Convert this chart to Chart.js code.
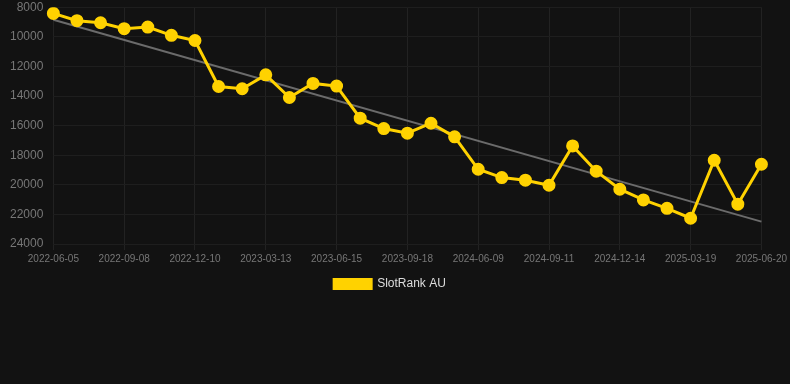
<!DOCTYPE html>
<html>
<head>
<meta charset="utf-8">
<script src="https://cdn.jsdelivr.net/npm/chart.js@4"></script>
<style>
  html, body { margin: 0; padding: 0; background: #121212; overflow: hidden; }
  #wrap { width: 790px; height: 310px; margin-top: -10px; }
</style>
</head>
<body>
<div id="wrap"><canvas id="rankChart"></canvas></div>
<script>
let dates = ['2022-06-05', '2022-07-07', '2022-08-08', '2022-09-08', '2022-10-09', '2022-11-09',
  '2022-12-10', '2023-01-11', '2023-02-11', '2023-03-13', '2023-04-14', '2023-05-15',
  '2023-06-15', '2023-07-17', '2023-08-17', '2023-09-18', '2023-10-19', '2024-05-08',
  '2024-06-09', '2024-07-10', '2024-08-10', '2024-09-11', '2024-10-12', '2024-11-13',
  '2024-12-14', '2025-01-14', '2025-02-15', '2025-03-19', '2025-04-19', '2025-05-20',
  '2025-06-20'];
let rank = [8420, 8910, 9050, 9450, 9340, 9900, 10250, 13360, 13510, 12570, 14100, 13150,
  13330, 15500, 16200, 16510, 15840, 16760, 18950, 19510, 19690, 20030, 17370, 19080,
  20300, 21020, 21590, 22260, 18340, 21310, 18610];
// trend line: start and end value only
let trendStart = 8850;
let trendEnd = 22490;

let trend = dates.map((d, i) => i === 0 ? trendStart : (i === dates.length - 1 ? trendEnd : null));

let gridColor = ctx => ctx.index % 3 === 0 ? '#222222' : 'rgba(0,0,0,0)';

let ctx = document.getElementById('rankChart').getContext('2d');
let chart = new Chart(ctx, {
  type: 'line',
  data: {
    labels: dates,
    datasets: [{
      label: 'SlotRank AU',
      data: rank,
      borderColor: '#ffd200',
      backgroundColor: '#ffd200',
      borderWidth: 3,
      pointRadius: 5,
      pointHoverRadius: 5,
      tension: 0,
      order: 1
    }, {
      label: 'trend',
      data: trend,
      borderColor: '#6b6b6b',
      borderWidth: 2,
      pointRadius: 0,
      spanGaps: true,
      order: 2
    }]
  },
  options: {
    responsive: true,
    maintainAspectRatio: false,
    animation: false,
    layout: { padding: { left: 0, right: 10, top: 0, bottom: 0 } },
    plugins: {
      legend: {
        position: 'bottom',
        labels: {
          color: '#dddddd',
          font: { family: 'Liberation Sans, Arial', size: 12 },
          boxWidth: 37,
          boxHeight: 9,
          filter: item => item.datasetIndex === 0
        }
      },
      tooltip: { enabled: false }
    },
    scales: {
      x: {
        grid: { color: gridColor, tickColor: gridColor, tickLength: 6 },
        border: { display: false },
        ticks: {
          color: '#777777',
          font: { family: 'Liberation Sans, Arial', size: 10 },
          autoSkip: false,
          maxRotation: 0,
          callback: function (val, i) { return i % 3 === 0 ? this.getLabelForValue(val) : ''; }
        }
      },
      y: {
        reverse: true,
        min: 8000,
        max: 24000,
        grid: { color: '#1e1e1e', drawTicks: false },
        border: { display: false },
        ticks: {
          stepSize: 2000,
          padding: 10,
          color: '#777777',
          font: { family: 'Liberation Sans, Arial', size: 12 },
          callback: v => String(v)
        }
      }
    }
  }
});
</script>
</body>
</html>
